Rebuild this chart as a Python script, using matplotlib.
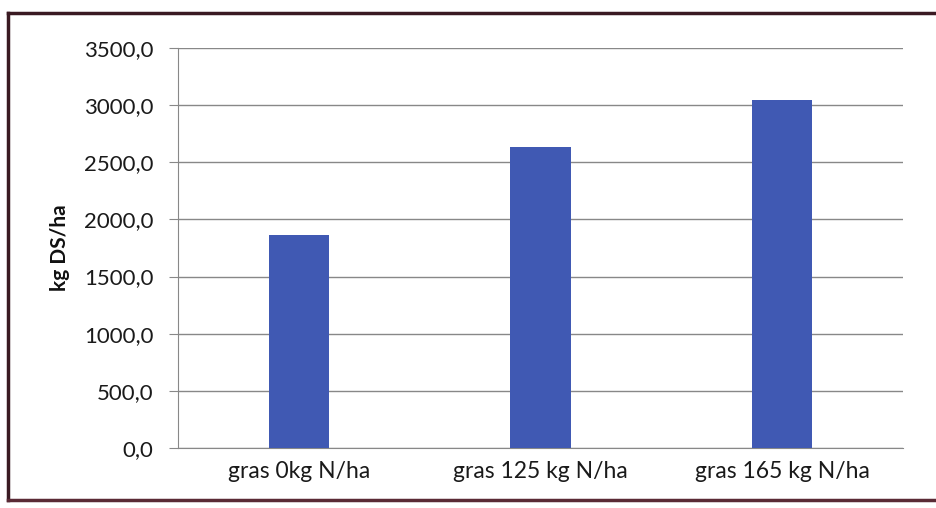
import matplotlib
matplotlib.use("Agg")
import matplotlib.pyplot as plt
from matplotlib.lines import Line2D
from matplotlib.ticker import FuncFormatter

categories = ["gras 0kg N/ha", "gras 125 kg N/ha", "gras 165 kg N/ha"]
values = [1860.0, 2635.0, 3045.0]
y_ticks = [0, 500, 1000, 1500, 2000, 2500, 3000, 3500]
y_label = "kg DS/ha"

plt.rcParams['font.family'] = ['Lato', 'DejaVu Sans']

fig = plt.figure(figsize=(9.36, 5.08), dpi=100)
ax = fig.add_axes([178/936, 1-448/508, (903-178)/936, 400/508])

x = range(len(categories))
ax.bar(x, values, width=0.25, color='#4059B3', zorder=3)
ax.set_xlim(-0.5, len(categories) - 0.5)
ax.set_ylim(0, 3500)
ax.set_yticks(y_ticks)
ax.yaxis.set_major_formatter(FuncFormatter(lambda v, p: f"{v:.1f}".replace('.', ',')))
ax.set_xticks(list(x))
ax.set_xticklabels(categories, fontsize=16.5, color='#1a1a1a')
ax.tick_params(axis='x', length=0, pad=9)
ax.tick_params(axis='y', length=6.5, color='#888888', labelsize=16, labelcolor='#1a1a1a', pad=11)
ax.grid(axis='y', color='#888888', linewidth=1.0, zorder=0)
for s in ['top', 'right']:
    ax.spines[s].set_visible(False)
ax.spines['left'].set_color('#888888')
ax.spines['bottom'].set_color('#888888')
ax.set_ylabel(y_label, fontsize=15, fontweight='bold', labelpad=10, color='#111111')

# outer frame of the scanned chart
frame_color = '#3a1a22'
fig.add_artist(Line2D([8/936, 1.0], [1-13/508, 1-13/508], color=frame_color, linewidth=2.5, transform=fig.transFigure))
fig.add_artist(Line2D([8/936, 8/936], [1-13/508, 1-500/508], color=frame_color, linewidth=2.5, transform=fig.transFigure))
fig.add_artist(Line2D([8/936, 1.0], [1-500/508, 1-500/508], color='#5a2a35', linewidth=2.5, transform=fig.transFigure))

fig.savefig("out.png", dpi=100)
